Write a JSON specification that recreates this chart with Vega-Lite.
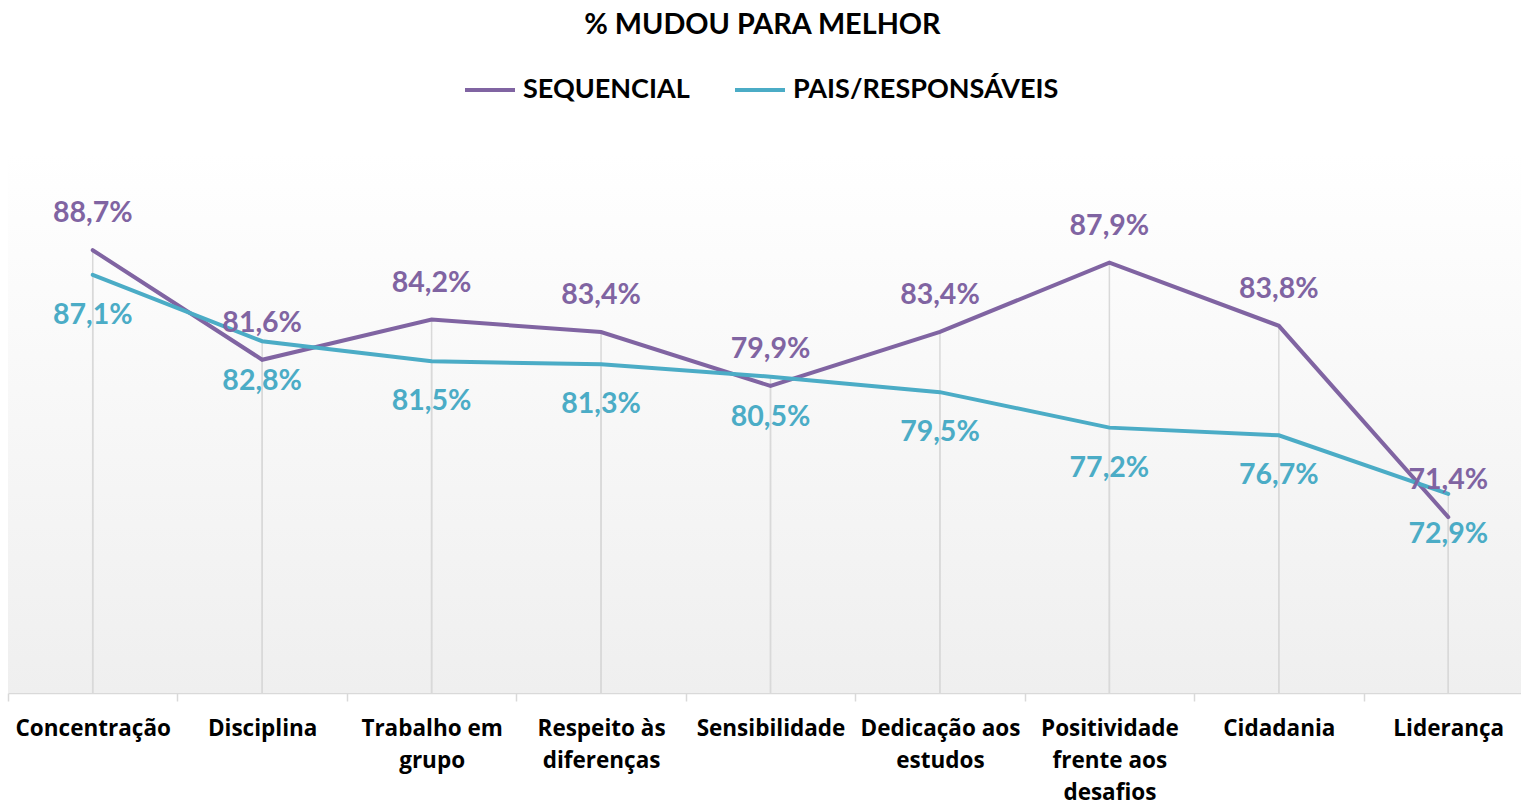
{
  "$schema": "https://vega.github.io/schema/vega-lite/v6.json",
  "width": 1525,
  "height": 540,
  "autosize": {"type": "none"},
  "padding": {"left": 8, "top": 153, "right": 0, "bottom": 110},
  "background": "#ffffff",
  "title": {
    "text": "% MUDOU PARA MELHOR",
    "font": "Lato",
    "fontSize": 28.8,
    "fontWeight": "bold",
    "color": "#000000",
    "anchor": "start",
    "dx": 577,
    "offset": 23
  },
  "config": {
    "view": {"stroke": null},
    "locale": {"number": {"decimal": ",", "thousands": ".", "grouping": [3], "currency": ["R$", ""]}}
  },
  "datasets": {
    "main": [
      {"cat": "Concentração", "serie": "SEQUENCIAL", "v": 0.887},
      {"cat": "Disciplina", "serie": "SEQUENCIAL", "v": 0.816},
      {"cat": "Trabalho em grupo", "serie": "SEQUENCIAL", "v": 0.842},
      {"cat": "Respeito às diferenças", "serie": "SEQUENCIAL", "v": 0.834},
      {"cat": "Sensibilidade", "serie": "SEQUENCIAL", "v": 0.799},
      {"cat": "Dedicação aos estudos", "serie": "SEQUENCIAL", "v": 0.834},
      {"cat": "Positividade frente aos desafios", "serie": "SEQUENCIAL", "v": 0.879},
      {"cat": "Cidadania", "serie": "SEQUENCIAL", "v": 0.838},
      {"cat": "Liderança", "serie": "SEQUENCIAL", "v": 0.714},
      {"cat": "Concentração", "serie": "PAIS/RESPONSÁVEIS", "v": 0.871},
      {"cat": "Disciplina", "serie": "PAIS/RESPONSÁVEIS", "v": 0.828},
      {"cat": "Trabalho em grupo", "serie": "PAIS/RESPONSÁVEIS", "v": 0.815},
      {"cat": "Respeito às diferenças", "serie": "PAIS/RESPONSÁVEIS", "v": 0.813},
      {"cat": "Sensibilidade", "serie": "PAIS/RESPONSÁVEIS", "v": 0.805},
      {"cat": "Dedicação aos estudos", "serie": "PAIS/RESPONSÁVEIS", "v": 0.795},
      {"cat": "Positividade frente aos desafios", "serie": "PAIS/RESPONSÁVEIS", "v": 0.772},
      {"cat": "Cidadania", "serie": "PAIS/RESPONSÁVEIS", "v": 0.767},
      {"cat": "Liderança", "serie": "PAIS/RESPONSÁVEIS", "v": 0.729}
    ]
  },
  "data": {"name": "main"},
  "encoding": {
    "x": {
      "field": "cat",
      "type": "nominal",
      "sort": null,
      "bandPosition": 0.5,
      "scale": {"type": "band", "paddingInner": 0, "paddingOuter": 0},
      "axis": {
        "title": null,
        "labelAngle": 0,
        "tickBand": "extent",
        "grid": false,
        "domainColor": "#d9d9d9",
        "domainWidth": 1.5,
        "tickColor": "#d9d9d9",
        "tickWidth": 1.5,
        "tickSize": 8,
        "labelFont": "Open Sans",
        "labelFontSize": 22.5,
        "labelFontWeight": "bold",
        "labelColor": "#000000",
        "labelPadding": 16,
        "labelBaseline": "top",
        "labelLineHeight": 32,
        "labelExpr": "datum.label == 'Trabalho em grupo' ? ['Trabalho em', 'grupo'] : datum.label == 'Respeito às diferenças' ? ['Respeito às', 'diferenças'] : datum.label == 'Dedicação aos estudos' ? ['Dedicação aos', 'estudos'] : datum.label == 'Positividade frente aos desafios' ? ['Positividade', 'frente aos', 'desafios'] : datum.label"
      }
    }
  },
  "layer": [
    {
      "data": {"values": [{"top": 0.95, "bottom": 0.6}]},
      "mark": {
        "type": "rect",
        "fill": {
          "gradient": "linear",
          "x1": 0, "y1": 0, "x2": 0, "y2": 1,
          "stops": [
            {"offset": 0, "color": "#ffffff"},
            {"offset": 1, "color": "#efefef"}
          ]
        }
      },
      "encoding": {
        "x": null,
        "y": {"field": "top", "type": "quantitative", "scale": {"domain": [0.6, 0.95]}, "axis": null},
        "y2": {"field": "bottom"}
      }
    },
    {
      "mark": {"type": "rule", "color": "#d9d9d9", "strokeWidth": 1.5},
      "encoding": {
        "y": {"field": "v", "type": "quantitative"},
        "y2": {"datum": 0.6}
      }
    },
    {
      "mark": {"type": "line", "strokeWidth": 4, "strokeCap": "round"},
      "encoding": {
        "y": {"field": "v", "type": "quantitative"},
        "color": {
          "field": "serie",
          "type": "nominal",
          "sort": ["SEQUENCIAL", "PAIS/RESPONSÁVEIS"],
          "scale": {"domain": ["SEQUENCIAL", "PAIS/RESPONSÁVEIS"], "range": ["#8064A2", "#4BACC6"]},
          "legend": {
            "title": null,
            "orient": "none",
            "direction": "horizontal",
            "legendX": 455,
            "legendY": -90,
            "symbolType": "stroke",
            "symbolStrokeWidth": 4,
            "symbolSize": 2500,
            "labelFont": "Lato",
            "labelFontSize": 27,
            "labelFontWeight": "bold",
            "labelColor": "#000000",
            "labelOffset": 6,
            "columnPadding": 37,
            "labelLimit": 400
          }
        },
        "order": {"field": "serie", "sort": "descending"}
      }
    },
    {
      "transform": [{"filter": "datum.serie == 'SEQUENCIAL'"}],
      "mark": {"type": "text", "font": "Lato", "fontSize": 28.5, "fontWeight": "bold", "color": "#8064A2", "dy": -37, "baseline": "middle"},
      "encoding": {
        "y": {"field": "v", "type": "quantitative"},
        "text": {"field": "v", "type": "quantitative", "format": ".1%"}
      }
    },
    {
      "transform": [{"filter": "datum.serie == 'PAIS/RESPONSÁVEIS'"}],
      "mark": {"type": "text", "font": "Lato", "fontSize": 28.5, "fontWeight": "bold", "color": "#4BACC6", "dy": 40, "baseline": "middle"},
      "encoding": {
        "y": {"field": "v", "type": "quantitative"},
        "text": {"field": "v", "type": "quantitative", "format": ".1%"}
      }
    }
  ]
}
